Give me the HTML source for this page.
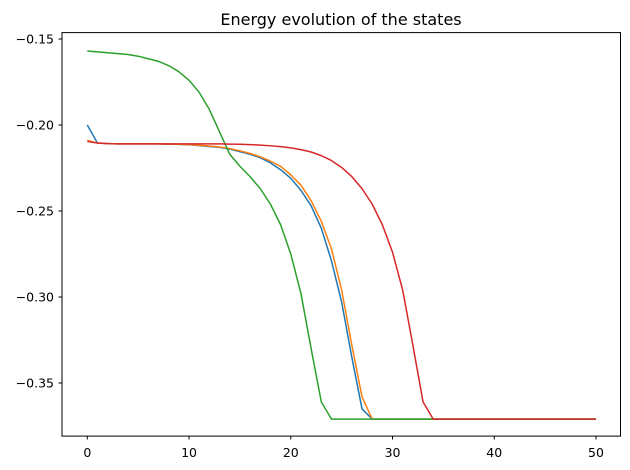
<!DOCTYPE html>
<html><head><meta charset="utf-8"><style>
body{margin:0;background:#fff;}
svg{display:block;font-family:"DejaVu Sans","Liberation Sans",sans-serif;}
</style></head><body>
<svg id="chart" width="630" height="470">
<text x="341" y="25" text-anchor="middle" font-size="16">Energy evolution of the states</text>
<g id="axes"></g>
<g id="lines"></g>
<rect x="62" y="32.6" width="558.5" height="403.5" fill="none" stroke="#000" stroke-width="1"/>
</svg>
<script>
const xTicks=[0,10,20,30,40,50];
const yTicks=[-0.15,-0.20,-0.25,-0.30,-0.35];
const yTickLabels=["−0.15","−0.20","−0.25","−0.30","−0.35"];
const blue=[-0.2,-0.2105,-0.2108,-0.211,-0.211,-0.211,-0.211,-0.211,-0.2112,-0.2113,-0.2115,-0.212,-0.2125,-0.213,-0.214,-0.2155,-0.217,-0.219,-0.222,-0.226,-0.231,-0.238,-0.247,-0.260,-0.279,-0.303,-0.335,-0.365,-0.371];
const orange=[-0.209,-0.2105,-0.2108,-0.211,-0.211,-0.211,-0.211,-0.211,-0.2111,-0.2112,-0.2114,-0.2118,-0.2122,-0.2128,-0.2137,-0.215,-0.2165,-0.2185,-0.221,-0.224,-0.229,-0.235,-0.244,-0.256,-0.272,-0.296,-0.328,-0.358,-0.371];
const green=[-0.157,-0.1575,-0.158,-0.1585,-0.159,-0.160,-0.1615,-0.163,-0.1655,-0.169,-0.174,-0.181,-0.191,-0.204,-0.217,-0.224,-0.230,-0.237,-0.246,-0.258,-0.275,-0.298,-0.330,-0.361,-0.371];
const red=[-0.2095,-0.2105,-0.2108,-0.211,-0.211,-0.211,-0.211,-0.211,-0.211,-0.211,-0.211,-0.211,-0.211,-0.211,-0.2111,-0.2112,-0.2114,-0.2117,-0.2121,-0.2126,-0.2133,-0.2143,-0.2157,-0.2178,-0.2207,-0.2247,-0.230,-0.237,-0.246,-0.258,-0.274,-0.296,-0.328,-0.361,-0.371];
const lastX=50, floorVal=-0.371;
const X=v=>87.3+v*(596-87.3)/50;
const Y=v=>39+(-0.15-v)/0.05*86;
const NS="http://www.w3.org/2000/svg";
const axes=document.getElementById('axes'), lines=document.getElementById('lines');
function mk(t,a,p){const e=document.createElementNS(NS,t);for(const k in a)e.setAttribute(k,a[k]);p.appendChild(e);return e;}
xTicks.forEach(v=>{
 const t=mk('line',{x1:X(v),x2:X(v),y1:436,y2:439.5,stroke:'#000'},axes);
 
 
 const l=mk('text',{x:X(v),y:457,'text-anchor':'middle','font-size':'12.5'},axes);l.textContent=v;
 
 
});
yTicks.forEach((v,i)=>{
 const t=mk('line',{x1:58.5,x2:62,y1:Y(v),y2:Y(v),stroke:'#000'},axes);
 
 
 const l=mk('text',{x:54,y:Y(v)+4.5,'text-anchor':'end','font-size':'12.5'},axes);l.textContent=yTickLabels[i];
 
 
});
const series=[[blue,'#1f77b4','blue-series'],[orange,'#ff7f0e','orange-series'],[green,'#2ca02c','green-series'],[red,'#d62728','red-series']];
series.forEach(([d,c,n])=>{
 const pts=d.map((v,i)=>X(i)+','+Y(v));
 pts.push(X(lastX)+','+Y(floorVal));
 const p=mk('polyline',{points:pts.join(' '),fill:'none',stroke:c,'stroke-width':'1.5','stroke-linejoin':'round'},lines);
 
 
});
</script>
</body></html>
